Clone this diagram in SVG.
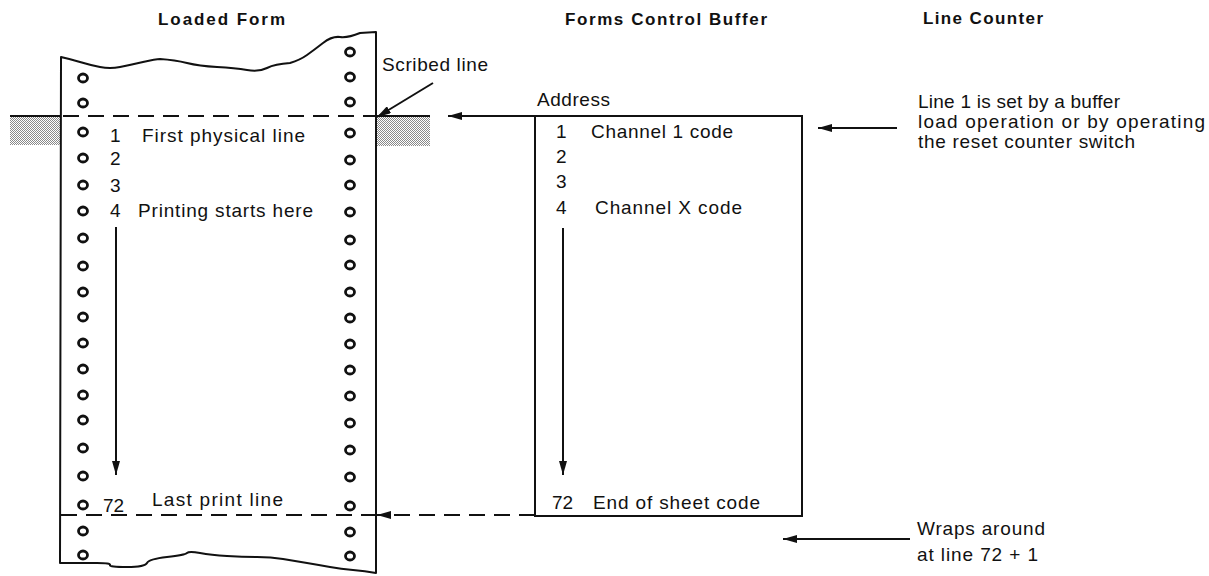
<svg xmlns="http://www.w3.org/2000/svg" width="1209" height="576" viewBox="0 0 1209 576">
<style>
.t{font-family:"Liberation Sans",Arial,sans-serif;font-size:19px;fill:#111}
.h{font-family:"Liberation Sans",Arial,sans-serif;font-size:17px;font-weight:bold;fill:#111}
.ln{stroke:#111;stroke-width:2;fill:none}
.dash{stroke:#111;stroke-width:2;fill:none;stroke-dasharray:16 9}
.hole{fill:none;stroke:#111;stroke-width:2.8}
</style>
<defs>
<marker id="ah" viewBox="0 0 14 8" refX="14" refY="4" markerWidth="14" markerHeight="8" markerUnits="userSpaceOnUse" orient="auto">
<path d="M0,0 L14,4 L0,8 z" fill="#111"/>
</marker>
<pattern id="stip" width="2" height="2" patternUnits="userSpaceOnUse">
<rect width="2" height="2" fill="#fff"/>
<rect x="0" y="0" width="1" height="1" fill="#8a8a8a"/>
<rect x="1" y="1" width="1" height="1" fill="#8a8a8a"/>
</pattern>
</defs>
<rect width="1209" height="576" fill="#fff"/>

<g id="titles">
<text class="h" x="158" y="25" textLength="127">Loaded Form</text>
<text class="h" x="565" y="25" textLength="202">Forms Control Buffer</text>
<text class="h" x="923" y="24" textLength="120">Line Counter</text>
</g>

<g id="platen">
<rect x="10" y="116" width="51" height="29" fill="url(#stip)"/>
<rect x="376" y="116" width="54" height="30" fill="url(#stip)"/>
<line class="ln" x1="10" y1="116" x2="61" y2="116"/>
<line class="ln" x1="376" y1="116" x2="430" y2="116"/>
</g>

<g id="loaded-form">
<path class="ln" stroke-linejoin="round" d="M61,57 Q70,59 80,62 T100,67 T120,67 T143,62 T160,59 Q175,60 187,63 T217,67 T247,70 T267,68 T290,63 Q300,60 307,55 T323,43 T340,37 T360,33 L376,32 L376,573 Q365,571 353,570 T330,567 T307,563 T283,559 T257,557 T227,556 T200,553 T187,553 T167,557 T147,563 T127,567 T110,565 T97,563 T77,563 L60,563 Z"/>
<g id="holes-left">
<ellipse class="hole" cx="83" cy="78" rx="4.5" ry="4"/>
<ellipse class="hole" cx="83" cy="103" rx="4.5" ry="4"/>
<ellipse class="hole" cx="83" cy="132" rx="4.5" ry="4"/>
<ellipse class="hole" cx="83" cy="158" rx="4.5" ry="4"/>
<ellipse class="hole" cx="83" cy="185" rx="4.5" ry="4"/>
<ellipse class="hole" cx="83" cy="211" rx="4.5" ry="4"/>
<ellipse class="hole" cx="83" cy="238" rx="4.5" ry="4"/>
<ellipse class="hole" cx="83" cy="266" rx="4.5" ry="4"/>
<ellipse class="hole" cx="83" cy="292" rx="4.5" ry="4"/>
<ellipse class="hole" cx="83" cy="317" rx="4.5" ry="4"/>
<ellipse class="hole" cx="83" cy="343" rx="4.5" ry="4"/>
<ellipse class="hole" cx="83" cy="369" rx="4.5" ry="4"/>
<ellipse class="hole" cx="83" cy="395" rx="4.5" ry="4"/>
<ellipse class="hole" cx="83" cy="420" rx="4.5" ry="4"/>
<ellipse class="hole" cx="83" cy="448" rx="4.5" ry="4"/>
<ellipse class="hole" cx="83" cy="476" rx="4.5" ry="4"/>
<ellipse class="hole" cx="83" cy="505" rx="4.5" ry="4"/>
<ellipse class="hole" cx="83" cy="531" rx="4.5" ry="4"/>
<ellipse class="hole" cx="83" cy="555" rx="4.5" ry="4"/>
</g>
<g id="holes-right">
<ellipse class="hole" cx="350" cy="52" rx="4.5" ry="4"/>
<ellipse class="hole" cx="350" cy="77" rx="4.5" ry="4"/>
<ellipse class="hole" cx="350" cy="102" rx="4.5" ry="4"/>
<ellipse class="hole" cx="350" cy="133" rx="4.5" ry="4"/>
<ellipse class="hole" cx="350" cy="160" rx="4.5" ry="4"/>
<ellipse class="hole" cx="350" cy="185" rx="4.5" ry="4"/>
<ellipse class="hole" cx="350" cy="212" rx="4.5" ry="4"/>
<ellipse class="hole" cx="350" cy="240" rx="4.5" ry="4"/>
<ellipse class="hole" cx="350" cy="265" rx="4.5" ry="4"/>
<ellipse class="hole" cx="350" cy="292" rx="4.5" ry="4"/>
<ellipse class="hole" cx="350" cy="318" rx="4.5" ry="4"/>
<ellipse class="hole" cx="350" cy="344" rx="4.5" ry="4"/>
<ellipse class="hole" cx="350" cy="370" rx="4.5" ry="4"/>
<ellipse class="hole" cx="350" cy="396" rx="4.5" ry="4"/>
<ellipse class="hole" cx="350" cy="423" rx="4.5" ry="4"/>
<ellipse class="hole" cx="350" cy="450" rx="4.5" ry="4"/>
<ellipse class="hole" cx="350" cy="477" rx="4.5" ry="4"/>
<ellipse class="hole" cx="350" cy="506" rx="4.5" ry="4"/>
<ellipse class="hole" cx="350" cy="532" rx="4.5" ry="4"/>
<ellipse class="hole" cx="350" cy="556" rx="4.5" ry="4"/>
</g>
<text class="t" x="110" y="142">1</text>
<text class="t" x="142" y="142" textLength="163">First physical line</text>
<text class="t" x="110" y="165">2</text>
<text class="t" x="110" y="192">3</text>
<text class="t" x="110" y="217">4</text>
<text class="t" x="138" y="217" textLength="175">Printing starts here</text>
<text class="t" x="103" y="512">72</text>
<text class="t" x="152" y="506" textLength="131">Last print line</text>
<text class="t" x="382" y="71" textLength="106">Scribed line</text>
</g>

<g id="forms-control-buffer">
<rect class="ln" x="535" y="116" width="267" height="400"/>
<text class="t" x="537" y="106" textLength="73">Address</text>
<text class="t" x="556" y="138">1</text>
<text class="t" x="591" y="138" textLength="142">Channel 1 code</text>
<text class="t" x="556" y="163">2</text>
<text class="t" x="556" y="188">3</text>
<text class="t" x="556" y="214">4</text>
<text class="t" x="595" y="214" textLength="147">Channel X code</text>
<text class="t" x="552" y="509">72</text>
<text class="t" x="593" y="509" textLength="167">End of sheet code</text>
</g>

<g id="line-counter">
<text class="t" x="918" y="108" textLength="202">Line 1 is set by a buffer</text>
<text class="t" x="918" y="128" textLength="287">load operation or by operating</text>
<text class="t" x="918" y="148" textLength="217">the reset counter switch</text>
<text class="t" x="917" y="535" textLength="128">Wraps around</text>
<text class="t" x="917" y="561" textLength="121">at line 72 + 1</text>
</g>

<g id="connectors">
<line class="dash" x1="63" y1="116" x2="376" y2="116"/>
<line class="dash" x1="61" y1="515" x2="376" y2="515"/>
<line class="dash" x1="535" y1="515" x2="377" y2="515" marker-end="url(#ah)"/>
<line class="ln" x1="535" y1="116" x2="448" y2="116" marker-end="url(#ah)"/>
<line class="ln" x1="433" y1="83" x2="377" y2="117" marker-end="url(#ah)"/>
<line class="ln" x1="116" y1="227" x2="116" y2="475" marker-end="url(#ah)"/>
<line class="ln" x1="563" y1="228" x2="563" y2="475" marker-end="url(#ah)"/>
<line class="ln" x1="897" y1="128" x2="818" y2="128" marker-end="url(#ah)"/>
<line class="ln" x1="910" y1="539" x2="783" y2="539" marker-end="url(#ah)"/>
</g>
</svg>
